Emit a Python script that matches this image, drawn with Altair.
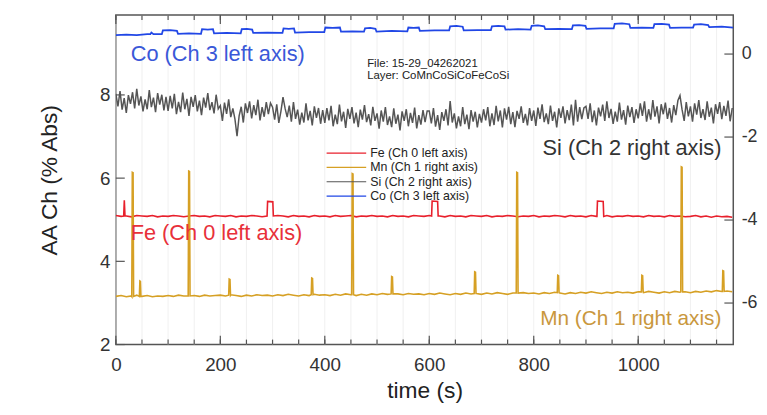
import altair as alt
import pandas as pd

# ---------------- data ----------------
x_major = [0, 200, 400, 600, 800, 1000]
x_minor = [0, 50, 100, 150, 200, 250, 300, 350, 400, 450, 500, 550, 600, 650,
           700, 750, 800, 850, 900, 950, 1000, 1050, 1100, 1150]
left_ticks = [2, 4, 6, 8]
right_ticks = [0, -2, -4, -6]

series_names = ["Fe (Ch 0 left axis)", "Mn (Ch 1 right axis)",
                "Si (Ch 2 right axis)", "Co (Ch 3 left axis)"]
series_colors = ["#e8202c", "#d6a024", "#555555", "#2147e6"]
file_lines = ["File: 15-29_04262021", "Layer: CoMnCoSiCoFeCoSi"]

# Co (left axis): step pattern
co_t = [0, 20, 40, 60, 66, 68, 72, 88, 90, 104, 117, 119, 140, 163, 165, 176, 186, 188,
        212, 239, 241, 251, 261, 263, 290, 319, 321, 331, 341, 343, 370, 399, 401, 415,
        429, 431, 453, 475, 477, 487, 497, 499, 528, 558, 560, 570, 580, 582, 610, 638,
        640, 652, 664, 666, 692, 718, 720, 732, 744, 746, 770, 794, 796, 808, 820, 822,
        848, 873, 875, 887, 899, 901, 927, 953, 955, 969, 983, 985, 1007, 1029, 1031, 1045,
        1059, 1061, 1083, 1105, 1107, 1120, 1134, 1136, 1160, 1182]
co_v = [9.44, 9.45, 9.44, 9.46, 9.46, 9.50, 9.46, 9.46, 9.55, 9.56, 9.54, 9.47, 9.48, 9.47, 9.58, 9.57, 9.58, 9.48,
        9.49, 9.48, 9.58, 9.59, 9.57, 9.49, 9.50, 9.49, 9.60, 9.59, 9.60, 9.50, 9.51, 9.51, 9.62, 9.61,
        9.62, 9.52, 9.53, 9.52, 9.60, 9.61, 9.59, 9.52, 9.54, 9.53, 9.62, 9.61, 9.62, 9.54, 9.55, 9.55,
        9.65, 9.66, 9.64, 9.55, 9.56, 9.56, 9.65, 9.66, 9.65, 9.57, 9.58, 9.57, 9.66, 9.67, 9.65, 9.58,
        9.59, 9.58, 9.67, 9.68, 9.66, 9.59, 9.60, 9.60, 9.71, 9.72, 9.70, 9.61, 9.62, 9.61, 9.70, 9.71,
        9.69, 9.61, 9.62, 9.62, 9.69, 9.70, 9.68, 9.63, 9.64, 9.62]

# Fe (left axis): baseline every 10 s, plus pulses
fe_base = [5.10, 5.08, 5.09, 5.07, 5.10, 5.09, 5.08, 5.10, 5.07, 5.09,
           5.08, 5.10, 5.09, 5.07, 5.09, 5.10, 5.08, 5.09, 5.07, 5.10,
           5.09, 5.08, 5.10, 5.07, 5.09, 5.08, 5.10, 5.09, 5.07, 5.09,
           5.08, 5.10, 5.09, 5.07, 5.10, 5.08, 5.09, 5.07, 5.10, 5.08,
           5.09, 5.07, 5.10, 5.08, 5.09, 5.10, 5.07, 5.09, 5.08, 5.10,
           5.08, 5.09, 5.07, 5.10, 5.08, 5.09, 5.07, 5.10, 5.09, 5.08,
           5.10, 5.08, 5.09, 5.07, 5.10, 5.08, 5.09, 5.07, 5.10, 5.09,
           5.08, 5.10, 5.07, 5.09, 5.08, 5.10, 5.09, 5.07, 5.09, 5.08,
           5.10, 5.07, 5.09, 5.08, 5.10, 5.09, 5.07, 5.10, 5.08, 5.09,
           5.07, 5.10, 5.08, 5.09, 5.10, 5.07, 5.09, 5.08, 5.10, 5.08,
           5.09, 5.07, 5.10, 5.08, 5.09, 5.07, 5.10, 5.08, 5.09, 5.07,
           5.08, 5.10, 5.07, 5.09, 5.06, 5.09, 5.07, 5.08, 5.06]
fe_events = [
    [(15, 5.09), (16.2, 5.47), (17.5, 5.09)],
    [(289.5, 5.09), (290.5, 5.44), (300.5, 5.43), (301.5, 5.09)],
    [(604.5, 5.09), (605.5, 5.45), (616, 5.44), (617, 5.09)],
    [(921, 5.08), (922, 5.45), (933, 5.44), (934, 5.08)],
]

# Mn (right axis): baseline every 10 s, plus spikes
mn_base = [-5.84, -5.82, -5.85, -5.83, -5.81, -5.84, -5.82, -5.85, -5.83, -5.84,
           -5.82, -5.84, -5.81, -5.83, -5.85, -5.82, -5.84, -5.81, -5.83, -5.82,
           -5.81, -5.83, -5.80, -5.82, -5.84, -5.81, -5.83, -5.80, -5.82, -5.81,
           -5.83, -5.80, -5.82, -5.79, -5.81, -5.83, -5.80, -5.82, -5.79, -5.81,
           -5.80, -5.82, -5.79, -5.81, -5.78, -5.80, -5.82, -5.79, -5.81, -5.78,
           -5.80, -5.77, -5.79, -5.81, -5.78, -5.80, -5.77, -5.79, -5.78, -5.80,
           -5.77, -5.79, -5.76, -5.78, -5.80, -5.77, -5.79, -5.76, -5.78, -5.77,
           -5.79, -5.76, -5.78, -5.75, -5.77, -5.79, -5.76, -5.78, -5.75, -5.77,
           -5.76, -5.78, -5.75, -5.77, -5.74, -5.76, -5.78, -5.75, -5.77, -5.74,
           -5.76, -5.73, -5.75, -5.77, -5.74, -5.76, -5.73, -5.75, -5.74, -5.76,
           -5.73, -5.75, -5.72, -5.74, -5.76, -5.73, -5.75, -5.72, -5.74, -5.73,
           -5.75, -5.72, -5.74, -5.71, -5.73, -5.70, -5.72, -5.71, -5.73]
mn_events = [
    [(30.5, -5.84), (31.5, -2.85), (33, -2.86), (34, -5.84)],
    [(45, -5.84), (46, -5.47), (47, -5.48), (48, -5.84)],
    [(138.5, -5.83), (139.5, -2.82), (141, -2.83), (142, -5.83)],
    [(216, -5.81), (217, -5.42), (218.5, -5.43), (219.5, -5.81)],
    [(374, -5.80), (375, -5.40), (376.5, -5.41), (377.5, -5.80)],
    [(451.5, -5.80), (452.5, -2.88), (454, -2.89), (455, -5.80)],
    [(527, -5.78), (528, -5.36), (529.5, -5.37), (530.5, -5.78)],
    [(686, -5.77), (687, -5.25), (688.5, -5.26), (689.5, -5.77)],
    [(766.5, -5.76), (767.5, -2.85), (769, -2.86), (770, -5.76)],
    [(845, -5.75), (846, -5.33), (847.5, -5.34), (848.5, -5.75)],
    [(1006, -5.73), (1007, -5.33), (1008.5, -5.34), (1009.5, -5.73)],
    [(1081.5, -5.73), (1082.5, -2.72), (1084, -2.73), (1085, -5.73)],
    [(1161, -5.72), (1162, -5.22), (1163.5, -5.23), (1164.5, -5.72)],
]

# Si (right axis): level of the band per 100 s, and the read fluctuation every 4 s
si_level = [-1.14, -1.22, -1.36, -1.46, -1.52, -1.55, -1.55, -1.52, -1.48, -1.44, -1.40, -1.38]
si_dev = [0.18, -0.12, 0.25, -0.20, 0.08, -0.28, 0.15, -0.06, 0.22, -0.17, 0.30, -0.10, 0.12, -0.24, 0.05, -0.19, 0.27, -0.14, 0.09, -0.26, 0.20, -0.08, 0.16, -0.22, 0.11,
          -0.15, 0.21, -0.09, 0.26, -0.23, 0.07, -0.18, 0.29, -0.11, 0.14, -0.27, 0.19, -0.05, 0.23, -0.16, 0.10, -0.25, 0.17, -0.07, 0.28, -0.13, 0.06, -0.21, 0.24, -0.10,
          0.12, -0.25, 0.19, -0.08, 0.27, -0.16, 0.05, -0.21, -0.62, -0.13, 0.09, -0.29, 0.17, -0.06, 0.22, -0.19, 0.13, -0.11, 0.26, -0.24, 0.08, -0.15, 0.20, -0.09, 0.18,
          0.18, -0.12, 0.25, -0.20, 0.08, 0.42, 0.15, -0.06, 0.22, -0.17, 0.30, -0.10, 0.12, -0.24, 0.05, -0.19, 0.27, -0.14, 0.09, -0.26, 0.20, -0.08, 0.16, -0.22, 0.11,
          -0.14, 0.22, -0.08, 0.27, -0.22, 0.06, -0.17, 0.30, -0.10, 0.13, -0.26, 0.20, -0.04, 0.24, -0.15, 0.11, -0.24, 0.18, -0.06, 0.29, -0.12, 0.07, -0.20, 0.25, -0.09,
          0.12, -0.25, 0.19, -0.08, 0.27, -0.16, 0.05, -0.21, 0.24, -0.13, 0.09, -0.29, 0.17, -0.06, 0.22, -0.19, 0.13, -0.11, 0.26, -0.24, 0.08, -0.15, 0.20, -0.09, 0.18,
          0.18, -0.12, 0.25, -0.20, 0.08, -0.28, 0.15, -0.06, 0.22, -0.17, 0.42, -0.10, 0.12, -0.24, 0.05, -0.19, 0.27, -0.14, 0.09, -0.26, 0.20, -0.08, 0.16, -0.22, 0.11,
          -0.13, 0.19, -0.08, 0.24, -0.22, 0.09, -0.19, 0.27, -0.10, 0.16, -0.25, 0.21, -0.06, 0.25, -0.17, 0.12, -0.24, 0.15, -0.04, 0.26, -0.14, 0.08, -0.20, 0.22, -0.09,
          0.12, -0.25, 0.19, -0.08, 0.27, -0.16, 0.05, -0.21, 0.24, -0.13, 0.09, -0.29, 0.17, -0.06, 0.22, -0.19, 0.13, -0.11, 0.26, -0.24, 0.38, -0.15, 0.20, -0.09, 0.18,
          0.18, -0.12, 0.25, -0.20, 0.08, -0.28, 0.15, -0.06, 0.22, -0.17, 0.30, -0.10, 0.12, -0.24, 0.05, -0.19, 0.27, -0.14, 0.09, -0.26, 0.20, -0.08, 0.16, -0.22, 0.11,
          -0.15, 0.21, -0.09, 0.26, -0.23, 0.07, -0.18, 0.29, -0.11, 0.14, -0.27, 0.19, -0.05, 0.23, -0.16, 0.10, -0.25, 0.17, -0.07, 0.28, 0.40, 0.06, -0.21, 0.24, -0.10,
          0.12, -0.25, 0.19, -0.08, 0.27, -0.16, 0.05, -0.21, 0.24, -0.13, 0.09, -0.29, 0.17, -0.06, 0.22, -0.19, 0.13, -0.11, 0.26, -0.24, 0.08]

assert len(co_t) == len(co_v)


# ---------------- build tables ----------------
def merge(base, step, events):
    wins = [(min(p[0] for p in g), max(p[0] for p in g)) for g in events]
    pts = [(i * step, v) for i, v in enumerate(base)
           if not any(a <= i * step <= b for a, b in wins)]
    for g in events:
        pts.extend(g)
    pts.sort()
    return pts


df_fe = pd.DataFrame([{"t": t, "v": v, "series": series_names[0]}
                      for t, v in merge(fe_base, 10, fe_events)])
df_co = pd.DataFrame([{"t": t, "v": v, "series": series_names[3]}
                      for t, v in zip(co_t, co_v)])
df_mn = pd.DataFrame([{"t": t, "v": v, "series": series_names[1]}
                      for t, v in merge(mn_base, 10, mn_events)])
df_si = pd.DataFrame([{"t": i * 4, "v": round(si_level[i // 25] + d, 3), "series": series_names[2]}
                      for i, d in enumerate(si_dev)])

W, H = 624, 333
FONT = "Liberation Sans"
LBL = "'' + datum.value"

xs = alt.Scale(domain=[0, 1182], nice=False, zero=False)
X = alt.X("t:Q", scale=xs,
          axis=alt.Axis(values=x_major, title="time (s)", ticks=False, domain=False,
                        grid=False, labelPadding=11, titlePadding=6, labelFlush=False,
                        labelExpr=LBL))
yL = alt.Y("v:Q", scale=alt.Scale(domain=[2, 9.92], nice=False, zero=False),
           axis=alt.Axis(values=left_ticks, title="AA Ch (% Abs)", ticks=False,
                         domain=False, grid=False, labelPadding=6, titlePadding=38,
                         labelExpr=LBL))
yR = alt.Y("v:Q", scale=alt.Scale(domain=[-7, 0.94], nice=False, zero=False),
           axis=alt.Axis(values=right_ticks, title="", orient="right", ticks=False,
                         domain=False, grid=False, labelPadding=8, labelFontSize=18,
                         labelExpr=LBL))
color = alt.Color("series:N", scale=alt.Scale(domain=series_names, range=series_colors),
                  legend=None)

df_minor = pd.DataFrame({"t": x_minor})
df_major = pd.DataFrame({"t": x_major})

grid = alt.Chart(df_minor).mark_rule(color="#ececec", strokeWidth=0.8).encode(
    x=X, y=alt.value(0), y2=alt.value(H))
tick_col = "#555555"
bot_major = alt.Chart(df_major).mark_rule(color=tick_col, strokeWidth=1.2).encode(
    x=X, y=alt.value(H), y2=alt.value(H - 9))
bot_minor = alt.Chart(df_minor).mark_rule(color=tick_col, strokeWidth=1.2).encode(
    x=X, y=alt.value(H), y2=alt.value(H - 5))
top_major = alt.Chart(df_major).mark_rule(color=tick_col, strokeWidth=1.2).encode(
    x=X, y=alt.value(0), y2=alt.value(9))
top_minor = alt.Chart(df_minor).mark_rule(color=tick_col, strokeWidth=1.2).encode(
    x=X, y=alt.value(0), y2=alt.value(5))

fe_line = alt.Chart(df_fe).mark_line(strokeWidth=1.6, clip=True).encode(x=X, y=yL, color=color)
co_line = alt.Chart(df_co).mark_line(strokeWidth=1.8, clip=True).encode(x=X, y=yL, color=color)
left_tk = alt.Chart(pd.DataFrame({"v": left_ticks})).mark_rule(
    color=tick_col, strokeWidth=1.2).encode(y=yL, x=alt.value(0), x2=alt.value(9))

mn_line = alt.Chart(df_mn).mark_line(strokeWidth=1.6, clip=True).encode(x=X, y=yR, color=color)
si_line = alt.Chart(df_si).mark_line(strokeWidth=1.5, clip=True).encode(x=X, y=yR, color=color)
right_tk = alt.Chart(pd.DataFrame({"v": right_ticks})).mark_rule(
    color=tick_col, strokeWidth=1.2).encode(y=yR, x=alt.value(W - 9), x2=alt.value(W))


def label(txt, x, y, size, col, align="left"):
    return alt.Chart(pd.DataFrame({"label": [txt]})).mark_text(
        font=FONT, fontSize=size, color=col, align=align, baseline="middle").encode(
        text="label:N", x=alt.value(x), y=alt.value(y))


annots = [
    label(series_names[3], 15, 39, 22, "#3a58d8"),
    label(series_names[2], 612, 134, 22, "#333333", "right"),
    label(series_names[0], 15, 220, 22, "#e8303a"),
    label(series_names[1], 612, 307, 21, "#c9973d", "right"),
    label(file_lines[0], 254, 49, 11.5, "#222222"),
    label(file_lines[1], 254, 62, 11.5, "#222222"),
]
leg_y = [139.5, 154, 168.5, 183]
for name, col, yy in zip(series_names, series_colors, leg_y):
    annots.append(alt.Chart(pd.DataFrame({"label": [name]})).mark_rule(
        color=col, strokeWidth=1.2).encode(x=alt.value(213), x2=alt.value(253), y=alt.value(yy)))
    annots.append(label(name, 257, yy, 12.5, "#222222"))

left = alt.layer(grid, bot_major, bot_minor, top_major, top_minor, fe_line, co_line, left_tk)
right = alt.layer(mn_line, si_line, right_tk)
ann = alt.layer(*annots)

chart = alt.layer(left, right, ann).resolve_scale(y="independent").properties(
    width=W, height=H,
    padding={"left": 109, "top": 5, "right": 26, "bottom": 61},
    autosize=alt.AutoSizeParams(type="none"),
).configure_view(stroke="#555555", strokeWidth=1.5).configure_axis(
    labelFont=FONT, labelFontSize=19, labelColor="#333333",
    titleFont=FONT, titleFontSize=23, titleFontWeight="normal", titleColor="#222222")

chart.save("out.html", embed_options={"renderer": "svg", "actions": False})
